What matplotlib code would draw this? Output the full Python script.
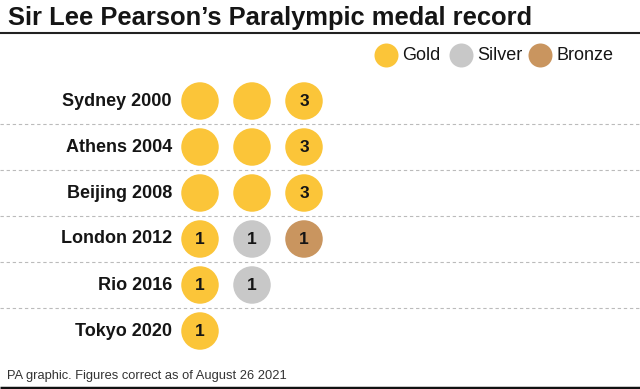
import matplotlib
matplotlib.use("Agg")
import matplotlib.pyplot as plt

games = ["Sydney 2000", "Athens 2004", "Beijing 2008", "London 2012", "Rio 2016", "Tokyo 2020"]
gold = [3, 3, 3, 1, 1, 1]
silver = [0, 0, 0, 1, 1, 0]
bronze = [0, 0, 0, 1, 0, 0]
medal_names = ["Gold", "Silver", "Bronze"]
medal_colors = ["#FBC539", "#C8C8C8", "#C9955F"]

title = "Sir Lee Pearson\u2019s Paralympic medal record"
footer = "PA graphic. Figures correct as of August 26 2021"

FONT = "Liberation Sans"
TXT = "#151515"

W, H, DPI = 640, 389, 100
fig = plt.figure(figsize=(W / DPI, H / DPI), dpi=DPI)
fig.patch.set_facecolor("white")

# overlay axes in pixel coordinates for decoration
deco = fig.add_axes([0, 0, 1, 1])
deco.set_xlim(0, W)
deco.set_ylim(H, 0)
deco.axis("off")

# main data axes: slot index on x, row index on y
x0, dx = 200, 52
y0, dy = 101, 46
ax = fig.add_axes([0, 0, 1, 1], facecolor="none")
ax.set_xlim(-x0 / dx, (W - x0) / dx)
ax.set_ylim((H - y0) / dy, -y0 / dy)
ax.axis("off")

# title and rules
deco.text(8, 25, title, fontsize=18.4, fontfamily=FONT, fontweight="bold",
          color=TXT, ha="left", va="baseline")
deco.plot([0, W], [33, 33], color="#222222", lw=1.5, solid_capstyle="butt")
deco.plot([0, W], [387.5, 387.5], color="#111111", lw=2.5, solid_capstyle="butt")
deco.text(7, 379, footer, fontsize=9.3, fontfamily=FONT, color="#333333",
          ha="left", va="baseline")

# separators between rows
for i in range(len(games) - 1):
    ax.plot([ax.get_xlim()[0], ax.get_xlim()[1]], [i + 0.5, i + 0.5],
            color="#BBBBBB", lw=0.8, ls=(0, (3, 2.5)))

# circles
size = (37.5 * 72 / DPI) ** 2
for r, name in enumerate(games):
    ax.text(-0.54, r, name, fontsize=13, fontfamily=FONT, fontweight="bold",
            color=TXT, ha="right", va="center")
    slot = 0
    for counts, col in zip([gold, silver, bronze], medal_colors):
        n = counts[r]
        if n == 0:
            continue
        for k in range(n):
            ax.scatter([slot], [r], s=size, color=col, edgecolors="none", zorder=3)
            if k == n - 1:
                ax.text(slot, r + 0.02, str(n), fontsize=12.5, fontfamily=FONT,
                        fontweight="bold", color=TXT, ha="center", va="center", zorder=4)
            slot += 1

# legend
leg_x = [386.5, 461.5, 540.5]
for xc, name, col in zip(leg_x, medal_names, medal_colors):
    deco.scatter([xc], [55.5], s=(24 * 72 / DPI) ** 2, color=col, edgecolors="none")
    deco.text(xc + 16, 55.5, name, fontsize=13, fontfamily=FONT, color=TXT,
              ha="left", va="center")

fig.savefig("out.png", dpi=DPI, facecolor="white")
